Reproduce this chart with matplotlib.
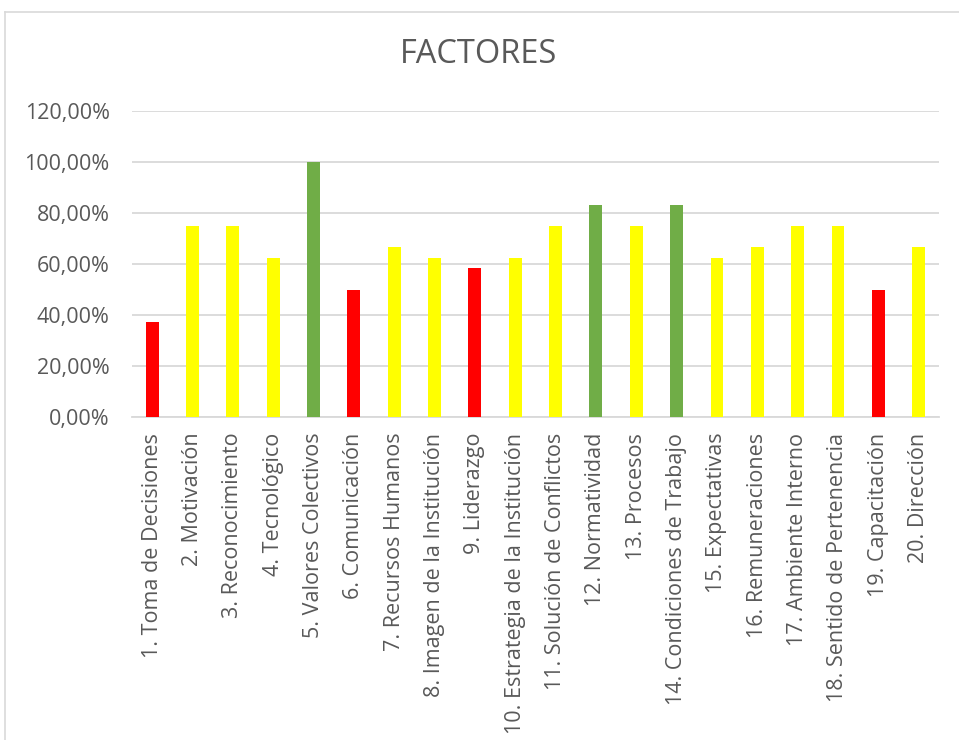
import matplotlib
matplotlib.use("Agg")
import matplotlib.pyplot as plt
from matplotlib.lines import Line2D
from matplotlib.ticker import FuncFormatter, MultipleLocator

categories = [
    "1. Toma de Decisiones", "2. Motivación", "3. Reconocimiento", "4. Tecnológico",
    "5. Valores Colectivos", "6. Comunicación", "7. Recursos Humanos",
    "8. Imagen de la Institución", "9. Liderazgo", "10. Estrategia de la Institución",
    "11. Solución de Conflictos", "12. Normatividad", "13. Procesos",
    "14. Condiciones de Trabajo", "15. Expectativas", "16. Remuneraciones",
    "17. Ambiente Interno", "18. Sentido de Pertenencia", "19. Capacitación",
    "20. Dirección",
]
values = [0.375, 0.75, 0.75, 0.625, 1.0, 0.5, 0.6667, 0.625, 0.5833, 0.625,
          0.75, 0.8333, 0.75, 0.8333, 0.625, 0.6667, 0.75, 0.75, 0.5, 0.6667]
levels = ["bajo", "medio", "medio", "medio", "alto", "bajo", "medio", "medio", "bajo", "medio",
          "medio", "alto", "medio", "alto", "medio", "medio", "medio", "medio", "bajo", "medio"]
level_colors = {"bajo": "#FF0000", "medio": "#FFFF00", "alto": "#70AD47"}

plt.rcParams["font.family"] = ["Open Sans", "DejaVu Sans"]
text_color = "#595959"
grid_color = "#D9D9D9"

fig = plt.figure(figsize=(9.59, 7.40), dpi=100)
ax = fig.add_axes([0.1376, 0.436, 0.979 - 0.1376, 0.850 - 0.436])

x = range(len(categories))
ax.bar(x, values, width=0.32, color=[level_colors[l] for l in levels], zorder=3)

ax.set_xlim(-0.5, len(categories) - 0.5)
ax.set_ylim(0, 1.2)
ax.yaxis.set_major_locator(MultipleLocator(0.2))
ax.yaxis.set_major_formatter(FuncFormatter(lambda v, _: f"{v * 100:.2f}%".replace(".", ",")))
ax.set_xticks(list(x))
ax.set_xticklabels(categories, rotation=90)

ax.grid(axis="y", color=grid_color, linewidth=1.3, zorder=0)
for side in ("top", "right", "left"):
    ax.spines[side].set_visible(False)
ax.spines["bottom"].set_color(grid_color)
ax.spines["bottom"].set_linewidth(1.3)
ax.tick_params(axis="both", length=0, labelsize=15.5, colors=text_color)
ax.tick_params(axis="y", pad=16)
ax.tick_params(axis="x", pad=11)

fig.text(0.499, 0.927, "FACTORES", ha="center", va="center", fontsize=23.5, color=text_color)

# chart area border
fig.add_artist(Line2D([4.5 / 959, 4.5 / 959], [0, 1 - 11.5 / 740], color=grid_color, linewidth=1.2))
fig.add_artist(Line2D([4.5 / 959, 1], [1 - 11.5 / 740, 1 - 11.5 / 740], color=grid_color, linewidth=1.2))

fig.savefig("out.png", dpi=100)
